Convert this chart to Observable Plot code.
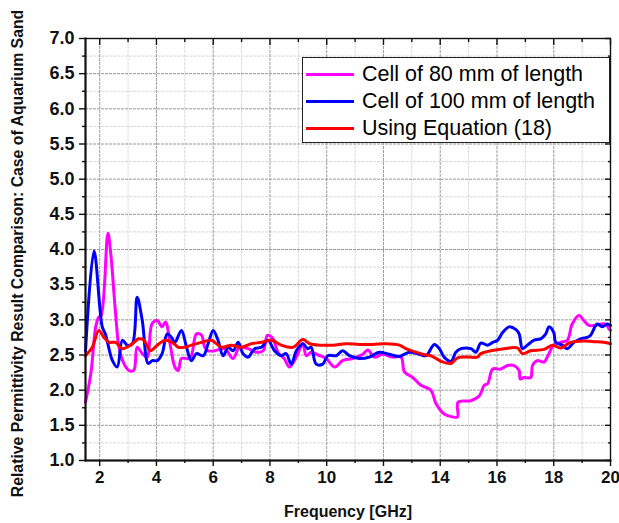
<!DOCTYPE html>
<html>
<head>
<meta charset="utf-8">
<script src="https://cdn.jsdelivr.net/npm/d3@7"></script>
<script src="https://cdn.jsdelivr.net/npm/@observablehq/plot@0.6"></script>
<style>
  html, body { margin: 0; padding: 0; background: #fff; }
  #wrap { position: relative; width: 619px; height: 523px; font-family: "Liberation Sans", Arial, sans-serif; }
  #legend { position: absolute; left: 302px; top: 57px; width: 308px; height: 86px; border: 1.3px solid #222; background: #fff; box-sizing: border-box; }
  .row { position: absolute; left: 0; height: 27px; display: flex; align-items: center; font-size: 21.5px; color: #000; white-space: nowrap; }
  .sw { width: 48px; height: 3px; margin-left: 3px; margin-right: 8px; }
</style>
</head>
<body>
<div id="wrap"><div id="chart"></div><div id="legend"></div></div>
<script>
// ---- data (frequency in GHz, relative permittivity) ----
const seriesNames = ["Cell of 80 mm of length", "Cell of 100 mm of length", "Using Equation (18)"];
const seriesColors = ["#ff00ff", "#0000ff", "#ff0000"];

const cell80Freq = [1.5,1.69,1.86,1.97,2.05,2.29,2.39,2.56,2.68,2.85,3.03,3.2,3.32,3.5,3.67,3.85,4.03,4.2,4.32,4.5,4.65,4.77,4.88,5.12,5.23,5.41,5.59,5.7,5.82,6.05,6.41,6.7,6.93,7.23,7.52,7.76,7.91,8.11,8.28,8.5,8.69,8.93,9.16,9.28,9.45,9.7,9.98,10.28,10.56,10.92,11.27,11.45,11.68,11.97,12.32,12.62,12.74,13.03,13.32,13.67,13.85,14.14,14.43,14.61,14.63,15.08,15.38,15.55,15.67,15.85,16.13,16.37,16.6,16.78,16.82,16.96,17.19,17.25,17.42,17.66,17.77,18.0,18.24,18.48,18.65,18.89,19.06,19.24,19.41,19.83,19.95,20];
const cell80Eps  = [1.83,2.24,2.90,3.04,3.06,4.23,3.94,3.09,2.61,2.38,2.28,2.28,2.61,2.52,2.47,2.95,2.99,2.90,2.97,2.61,2.33,2.28,2.45,2.45,2.49,2.80,2.78,2.61,2.56,2.56,2.59,2.45,2.61,2.59,2.54,2.56,2.78,2.73,2.54,2.45,2.33,2.47,2.66,2.49,2.54,2.50,2.45,2.33,2.42,2.45,2.51,2.57,2.47,2.51,2.47,2.47,2.26,2.18,2.07,2.00,1.81,1.66,1.62,1.62,1.83,1.85,1.92,2.07,2.09,2.30,2.30,2.35,2.35,2.28,2.16,2.18,2.18,2.35,2.42,2.40,2.47,2.64,2.68,2.71,2.94,3.06,2.99,2.92,2.92,2.94,2.87,2.85];

const cell100Freq = [1.5,1.8,2.09,2.2,2.45,2.62,2.8,2.97,3.15,3.32,3.5,3.71,3.85,4.03,4.2,4.38,4.53,4.65,4.88,5.06,5.23,5.41,5.65,5.82,6.0,6.17,6.35,6.53,6.7,6.88,7.05,7.23,7.46,7.7,7.93,8.16,8.4,8.57,8.75,8.93,9.16,9.33,9.45,9.63,9.86,10.04,10.33,10.56,10.8,11.15,11.5,11.85,12.2,12.56,12.91,13.26,13.5,13.79,13.97,14.14,14.38,14.55,14.73,15.08,15.26,15.43,15.67,15.85,16.02,16.2,16.43,16.67,16.78,16.9,17.07,17.31,17.54,17.72,17.83,18.0,18.07,18.3,18.48,18.71,18.95,19.18,19.3,19.53,19.71,19.88,20];
const cell100Eps  = [2.55,3.98,2.90,2.80,2.42,2.33,2.71,2.64,2.66,3.32,2.99,2.38,2.42,2.42,2.52,2.80,2.75,2.68,2.85,2.61,2.42,2.52,2.49,2.66,2.85,2.71,2.49,2.61,2.56,2.68,2.52,2.47,2.59,2.61,2.71,2.56,2.49,2.52,2.37,2.56,2.66,2.59,2.61,2.37,2.37,2.49,2.49,2.56,2.49,2.45,2.47,2.54,2.51,2.48,2.54,2.51,2.49,2.65,2.59,2.47,2.41,2.54,2.59,2.59,2.54,2.67,2.64,2.68,2.71,2.82,2.90,2.86,2.80,2.59,2.64,2.71,2.73,2.80,2.90,2.82,2.68,2.64,2.59,2.68,2.73,2.75,2.78,2.94,2.90,2.94,2.92];

const eqFreq = [1.5,1.74,1.97,2.15,2.33,2.56,2.8,3.09,3.38,3.56,3.79,4.03,4.32,4.62,4.77,5.0,5.23,5.59,5.94,6.29,6.64,6.99,7.34,7.7,8.05,8.4,8.81,9.16,9.4,9.75,10.22,10.68,11.15,11.62,12.09,12.56,12.79,13.14,13.5,13.67,14.03,14.38,14.61,14.96,15.31,15.43,15.78,16.25,16.72,16.9,17.19,17.66,17.95,18.24,18.59,19.06,19.41,19.76,20];
const eqEps  = [2.49,2.61,2.85,2.75,2.68,2.68,2.59,2.64,2.73,2.71,2.56,2.64,2.71,2.66,2.61,2.61,2.64,2.68,2.71,2.61,2.64,2.61,2.66,2.68,2.71,2.64,2.61,2.72,2.66,2.64,2.64,2.66,2.65,2.65,2.66,2.64,2.59,2.54,2.50,2.49,2.41,2.38,2.46,2.47,2.47,2.52,2.56,2.59,2.60,2.52,2.56,2.58,2.64,2.60,2.68,2.70,2.69,2.68,2.66];

const xMajorTicks = [2,4,6,8,10,12,14,16,18,20];
const xMinorTicks = [3,5,7,9,11,13,15,17,19];
const yMajorTicks = [1.0,1.5,2.0,2.5,3.0,3.5,4.0,4.5,5.0,5.5,6.0,6.5,7.0];
const yMinorTicks = [1.25,1.75,2.25,2.75,3.25,3.75,4.25,4.75,5.25,5.75,6.25,6.75];
const xTitle = "Frequency [GHz]";
const yTitle = "Relative Permittivity Result Comparison: Case of Aquarium Sand";

// ---- build table ----
const toRows = (f, v, s) => f.map((x, i) => ({freq: x, eps: v[i], series: s}));
const rows = [
  ...toRows(cell80Freq, cell80Eps, seriesNames[0]),
  ...toRows(cell100Freq, cell100Eps, seriesNames[1]),
  ...toRows(eqFreq, eqEps, seriesNames[2])
];

const font = "'Liberation Sans', Arial, sans-serif";

const chart = Plot.plot({
  width: 619,
  height: 523,
  marginLeft: 85,
  marginRight: 9,
  marginTop: 38,
  marginBottom: 63,
  style: {fontFamily: font, background: "#fff", overflow: "visible"},
  x: {domain: [1.5, 20]},
  y: {domain: [1, 7]},
  color: {domain: seriesNames, range: seriesColors},
  marks: [
    // minor grid
    Plot.gridX(xMinorTicks, {stroke: "#d8d8d8", strokeOpacity: 1, strokeWidth: 1, strokeDasharray: "3,1"}),
    Plot.gridY(yMinorTicks, {stroke: "#d8d8d8", strokeOpacity: 1, strokeWidth: 1, strokeDasharray: "3,1"}),
    // major grid
    Plot.gridX(xMajorTicks, {stroke: "#9a9a9a", strokeOpacity: 1, strokeWidth: 1, strokeDasharray: "3,1"}),
    Plot.gridY(yMajorTicks, {stroke: "#9a9a9a", strokeOpacity: 1, strokeWidth: 1, strokeDasharray: "3,1"}),
    // series lines
    Plot.line(rows, {x: "freq", y: "eps", z: "series", stroke: "series", strokeWidth: 3, curve: "catmull-rom", strokeLinejoin: "round"}),
    // frame
    Plot.frame({stroke: "#111", strokeWidth: 1.4}),
    // left axis (outward)
    Plot.axisY(yMajorTicks, {anchor: "left", tickSize: 6, tickPadding: 5, tickFormat: d3.format(".1f"), fontSize: 18, fontWeight: "bold", label: null, stroke: "#111", strokeWidth: 1.4, fill: "#111"}),
    Plot.axisY(yMinorTicks, {anchor: "left", tickSize: 3, tickFormat: () => "", label: null, stroke: "#111", strokeWidth: 1.4}),
    // bottom axis (outward)
    Plot.axisX(xMajorTicks, {anchor: "bottom", tickSize: 6, tickPadding: 4, tickFormat: d3.format("d"), fontSize: 17, fontWeight: "bold", label: null, stroke: "#111", strokeWidth: 1.4, fill: "#111"}),
    Plot.axisX(xMinorTicks, {anchor: "bottom", tickSize: 3, tickFormat: () => "", label: null, stroke: "#111", strokeWidth: 1.4}),
    // right axis (inward)
    Plot.axisY(yMajorTicks, {anchor: "right", tickSize: 6, dx: -6, tickFormat: () => "", label: null, stroke: "#111", strokeWidth: 1.4}),
    Plot.axisY(yMinorTicks, {anchor: "right", tickSize: 3, dx: -3, tickFormat: () => "", label: null, stroke: "#111", strokeWidth: 1.4}),
    // top axis (inward)
    Plot.axisX(xMajorTicks, {anchor: "top", tickSize: 6, dy: 6, tickFormat: () => "", label: null, stroke: "#111", strokeWidth: 1.4}),
    Plot.axisX(xMinorTicks, {anchor: "top", tickSize: 3, dy: 3, tickFormat: () => "", label: null, stroke: "#111", strokeWidth: 1.4}),
    // thicker left/bottom axis lines
    Plot.frame({anchor: "left", stroke: "#111", strokeWidth: 2}),
    Plot.frame({anchor: "bottom", stroke: "#111", strokeWidth: 2}),
    // axis titles
    Plot.text([xTitle], {frameAnchor: "bottom", dy: 56, text: d => d, fontSize: 16, fontWeight: "bold", fill: "#111"}),
    Plot.text([yTitle], {frameAnchor: "left", textAnchor: "middle", rotate: -90, dx: -68, dy: 4, text: d => d, fontSize: 15.8, fontWeight: "bold", fill: "#111"})
  ]
});
document.getElementById("chart").appendChild(chart);

// legend
const legend = document.getElementById("legend");
seriesNames.forEach((name, i) => {
  const row = document.createElement("div");
  row.className = "row";
  row.style.top = (3 + i * 27) + "px";
  const sw = document.createElement("div");
  sw.className = "sw";
  sw.style.background = seriesColors[i];
  const t = document.createElement("span");
  t.textContent = name;
  row.appendChild(sw);
  row.appendChild(t);
  legend.appendChild(row);
});
</script>
</body>
</html>
